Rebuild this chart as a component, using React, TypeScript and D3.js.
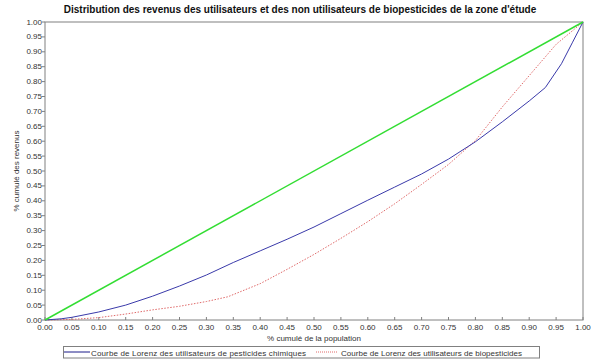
import React from "react";
import * as d3 from "d3";

const title = "Distribution des revenus des utilisateurs et des non utilisateurs de biopesticides de la zone d'étude";
const xLabel = "% cumulé de la population";
const yLabel = "% cumulé des revenus";
const legendBlue = "Courbe de Lorenz des utilisateurs de pesticides chimiques";
const legendRed = "Courbe de Lorenz des utilisateurs de biopesticides";

const ticks = d3.range(0, 21).map((i) => i * 0.05);

const equality: [number, number][] = [[0, 0], [1, 1]];

const blueX = [0, 0.03, 0.05, 0.1, 0.15, 0.2, 0.25, 0.3, 0.35, 0.4, 0.45, 0.5, 0.55, 0.6, 0.65, 0.7, 0.75, 0.8, 0.85, 0.9, 0.93, 0.96, 0.98, 1.0];
const blueY = [0, 0.004, 0.009, 0.027, 0.05, 0.08, 0.114, 0.151, 0.193, 0.232, 0.271, 0.312, 0.357, 0.402, 0.446, 0.49, 0.54, 0.598, 0.665, 0.735, 0.78, 0.86, 0.93, 1.0];

const redX = [0, 0.05, 0.1, 0.15, 0.2, 0.25, 0.3, 0.34, 0.4, 0.45, 0.5, 0.55, 0.6, 0.65, 0.7, 0.75, 0.8, 0.85, 0.9, 0.95, 1.0];
const redY = [0, 0.002, 0.008, 0.02, 0.034, 0.046, 0.062, 0.078, 0.122, 0.17, 0.22, 0.274, 0.33, 0.39, 0.455, 0.522, 0.602, 0.715, 0.82, 0.925, 1.0];

export default function App() {
  const W = 600, H = 360;
  const left = 45, right = 583, top = 22, bottom = 320;
  const x = d3.scaleLinear().domain([0, 1]).range([left, right]);
  const y = d3.scaleLinear().domain([0, 1]).range([bottom, top]);
  const line = d3.line<[number, number]>().x((d) => x(d[0])).y((d) => y(d[1]));
  const blue = blueX.map((v, i) => [v, blueY[i]] as [number, number]);
  const red = redX.map((v, i) => [v, redY[i]] as [number, number]);
  const font = "'Liberation Sans', Arial, sans-serif";
  const axisColor = "#808080";
  const textColor = "#333";

  return (
    <svg width={W} height={H} style={{ position: "absolute", left: 0, top: 0, background: "#fff" }} fontFamily={font}>
      <text x={300} y={12.5} textAnchor="middle" fontSize={10} fontWeight="bold" fill="#111">{title}</text>
      {/* frame */}
      <rect x={left} y={top} width={right - left} height={bottom - top} fill="none" stroke={axisColor} strokeWidth={1} />
      {/* y ticks */}
      {ticks.map((t, i) => (
        <g key={"y" + i}>
          <line x1={left - 3} x2={left} y1={y(t)} y2={y(t)} stroke={axisColor} />
          <text x={left - 3} y={y(t) + 2.5} textAnchor="end" fontSize={8} fill={textColor}>{t.toFixed(2)}</text>
        </g>
      ))}
      {/* x ticks */}
      {ticks.map((t, i) => (
        <g key={"x" + i}>
          <line x1={x(t)} x2={x(t)} y1={bottom} y2={bottom - 3} stroke={axisColor} />
          <text x={x(t)} y={bottom + 9.5} textAnchor="middle" fontSize={8} fill={textColor}>{t.toFixed(2)}</text>
        </g>
      ))}
      <text x={(left + right) / 2} y={341} textAnchor="middle" fontSize={8} fill={textColor}>{xLabel}</text>
      <text transform={`translate(19,${(top + bottom) / 2}) rotate(-90)`} textAnchor="middle" fontSize={8} fill={textColor}>{yLabel}</text>
      {/* lines */}
      <path d={line(red) || ""} fill="none" stroke="#e06a6a" strokeWidth={1} strokeDasharray="1.5,1.5" />
      <path d={line(blue) || ""} fill="none" stroke="#3a3aaa" strokeWidth={1} />
      <path d={line(equality) || ""} fill="none" stroke="#33dd33" strokeWidth={1.5} />
      {/* legend */}
      <rect x={63.5} y={346.5} width={476} height={11.5} fill="#fff" stroke={axisColor} />
      <line x1={64} x2={90} y1={352} y2={352} stroke="#1a1a8a" strokeWidth={1} />
      <text x={91} y={355.5} fontSize={8} fill={textColor} textLength={215} lengthAdjust="spacing">{legendBlue}</text>
      <line x1={316} x2={337} y1={352} y2={352} stroke="#e06a6a" strokeWidth={1} strokeDasharray="1,1" />
      <text x={341} y={355.5} fontSize={8} fill={textColor} textLength={181} lengthAdjust="spacing">{legendRed}</text>
    </svg>
  );
}
